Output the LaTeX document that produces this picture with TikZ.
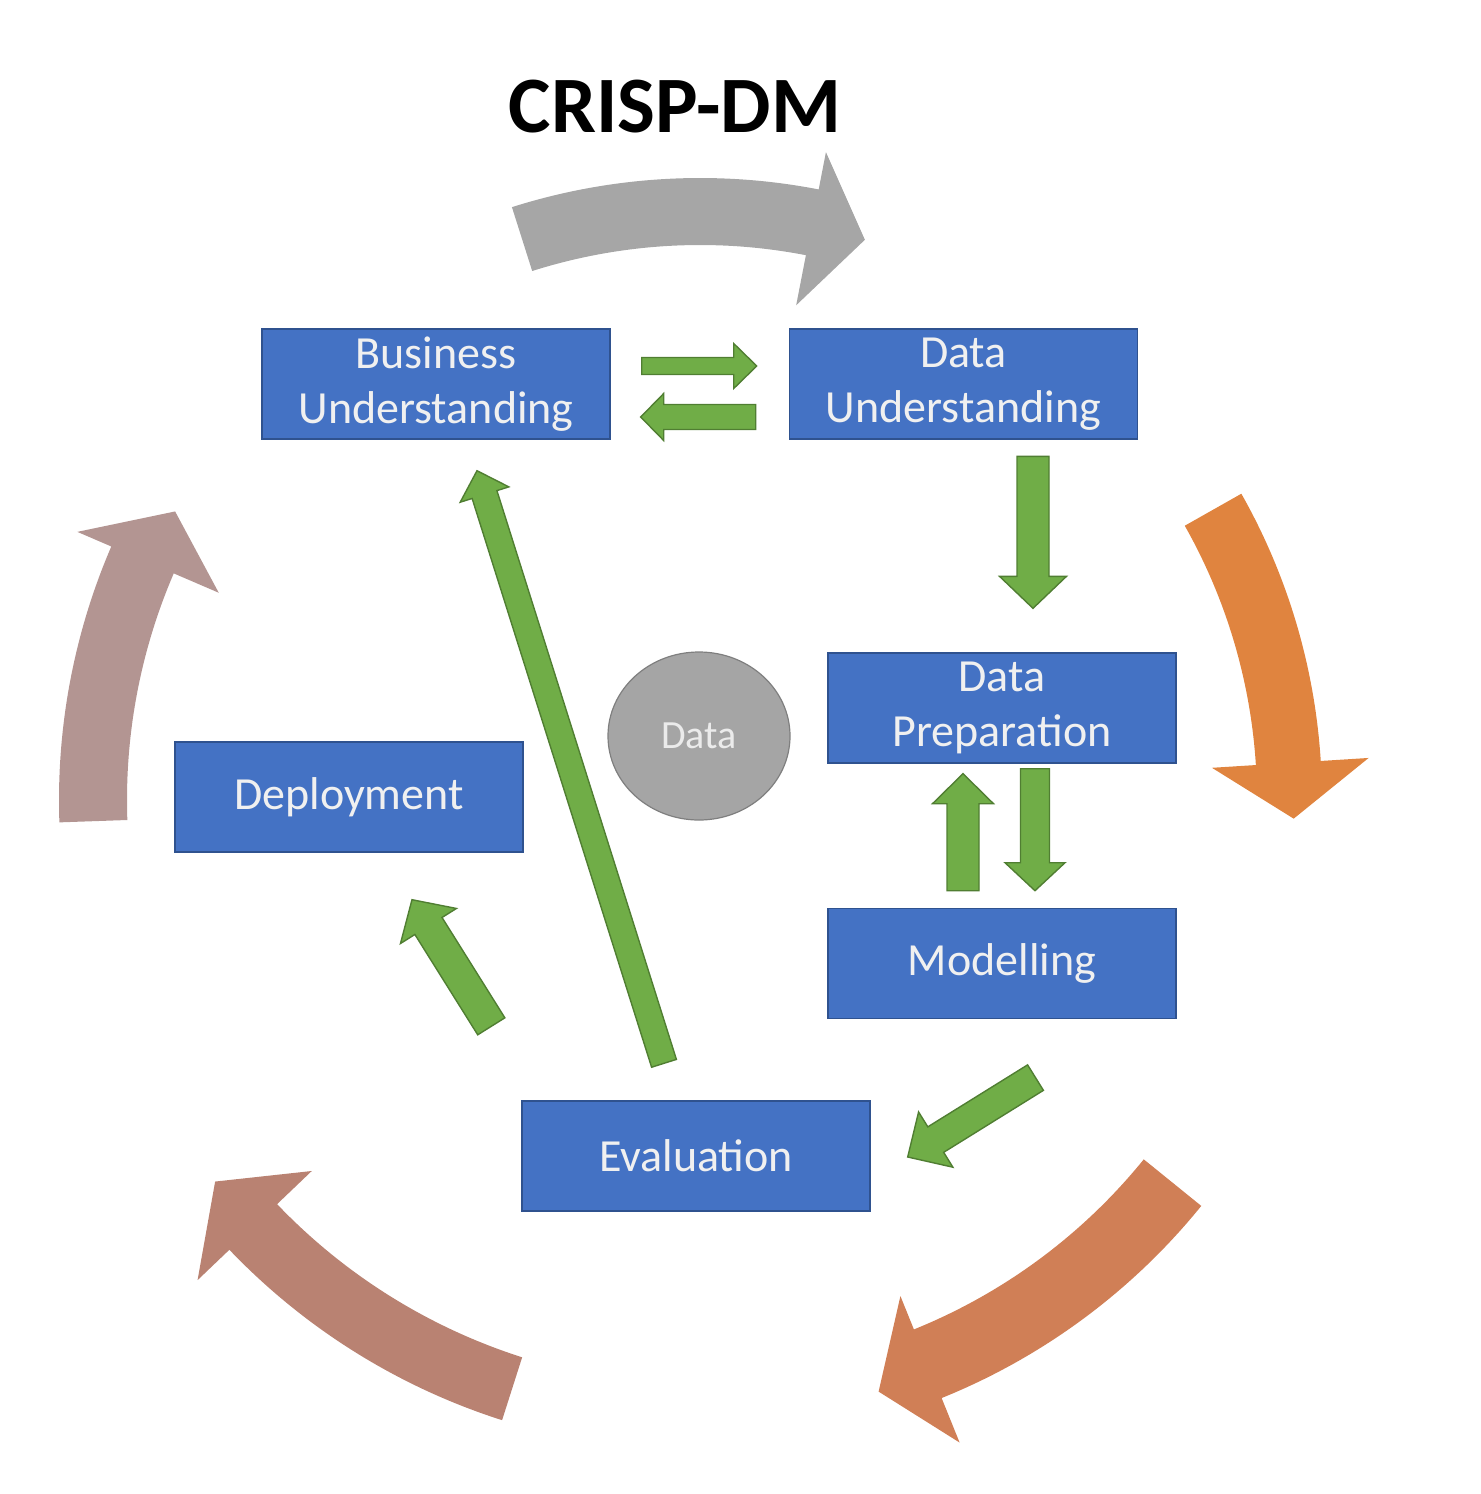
\documentclass[tikz,border=0pt]{standalone}
\usepackage{fontspec}
\setmainfont{Carlito}
\usetikzlibrary{positioning, calc, shapes.geometric}
\definecolor{boxblue}{HTML}{4472C4}
\definecolor{boxline}{HTML}{2F528F}
\definecolor{leaf}{HTML}{70AD47}
\definecolor{leafline}{HTML}{507E32}
\definecolor{stone}{HTML}{A5A5A5}
\definecolor{stoneline}{HTML}{7F7F7F}
\definecolor{bentgray}{HTML}{A6A6A6}
\definecolor{bentorange}{HTML}{E0843F}
\definecolor{bentrust}{HTML}{D07F56}
\definecolor{bentbrown}{HTML}{B98272}
\definecolor{bentmauve}{HTML}{B39592}
\tikzset{
        phase/.style={rectangle, draw=boxline, line width=0.7pt, fill=boxblue,
                text=white!94!black, minimum width=174pt, minimum height=55pt,
                inner sep=0pt, align=center, font=\fontsize{23}{27.5}\selectfont}, % the six phases
        store/.style={ellipse, draw=stoneline, line width=0.6pt, fill=stone,
                text=white!92!black, minimum width=91pt, minimum height=84pt,
                inner sep=0pt, font=\fontsize{20}{24}\selectfont},
        flow/.style={draw=leafline, line width=0.7pt, fill=leaf}, % green block arrows
        }
% block arrow: tail, tip, shaft half width, head half width, head length
\newcommand{\blockarrow}[5]{%
        \coordinate (hb) at ($(#2)!#5!(#1)$);
        \draw[flow] ($(#1)!#3!90:(#2)$) -- ($(hb)!#3!90:(#2)$) -- ($(hb)!#4!90:(#2)$) -- (#2)
              -- ($(hb)!#4!-90:(#2)$) -- ($(hb)!#3!-90:(#2)$) -- ($(#1)!#3!-90:(#2)$) -- cycle;}
% bent arrow round the cycle: colour, inner r, outer r, tail, head base, tip angle,
% head inner r, head outer r, tip r
\newcommand{\bentarrow}[9]{%
        \fill[#1, shift={(700,800)}] (#4:#3) arc[start angle=#4, end angle=#5, radius=#3]
              -- (#5:#8) -- (#6:#9) -- (#5:#7) -- (#5:#2)
              arc[start angle=#5, end angle=#4, radius=#2] -- cycle;}

\begin{document}
\begin{tikzpicture}[x=0.5pt, y=-0.5pt]
        \useasboundingbox (0,0) rectangle (1480,1494);
        \node (title) at (675,107) {\fontsize{40}{48}\selectfont\bfseries CRISP-DM};

        % outer cycle
        \bentarrow{bentgray}{555}{622}{-107.6}{-79}{-73.6}{504}{660}{584}
        \bentarrow{bentorange}{557}{622}{-29.5}{-3.6}{1.8}{513}{670}{594}
        \bentarrow{bentrust}{571}{645}{39}{68}{73.2}{535}{693}{618}
        \bentarrow{bentbrown}{585}{651}{107.7}{136.3}{141.8}{537}{695}{617}
        \bentarrow{bentmauve}{573}{641}{178}{203.3}{208.8}{524}{678}{599}

        \node[phase] (bu) at (436,384) {Business\\Understanding};
        \node[phase, right=89pt of bu] (du) {Data\\Understanding};
        \node[phase] (dp) at (1002,708) {Data\\Preparation};
        \node[phase, below=72pt of dp] (mo) {Modelling};
        \node[phase] (ev) at (696,1156) {Evaluation};
        \node[phase] (de) at (349,797) {Deployment};
        \node[store] (data) at (699,736) {Data};

        % ends of the green arrows
        \coordinate (b2d-s) at ($(bu.east)+(31,-18)$);
        \coordinate (b2d-e) at ($(du.west)+(-32,-18)$);
        \coordinate (d2b-s) at ($(du.west)+(-33,33)$);
        \coordinate (d2b-e) at ($(bu.east)+(30,33)$);
        \coordinate (d2p-s) at ($(dp.north)+(31,-196)$);
        \coordinate (d2p-e) at ($(dp.north)+(31,-44)$);
        \coordinate (m2p-s) at ($(mo.north)+(-39,-17)$);
        \coordinate (m2p-e) at ($(dp.south)+(-39,10)$);
        \coordinate (p2m-s) at ($(dp.south)+(33,5)$);
        \coordinate (p2m-e) at ($(mo.north)+(33,-17)$);
        \coordinate (m2e-s) at ($(mo.south)+(33.5,58.5)$);
        \coordinate (m2e-e) at ($(ev.east)+(37,1)$);
        \coordinate (e2d-s) at ($(ev.north west)+(-30,-74)$);
        \coordinate (e2d-e) at ($(de.south)+(63,47)$);
        \coordinate (e2b-s) at ($(ev.north)+(-32,-37)$);
        \coordinate (e2b-e) at ($(bu.south)+(41,31)$);

        \blockarrow{b2d-s}{b2d-e}{4.25pt}{11.25pt}{11.5pt}
        \blockarrow{d2b-s}{d2b-e}{6.25pt}{11.75pt}{11.5pt}
        \blockarrow{d2p-s}{d2p-e}{8pt}{16.75pt}{16pt}
        \blockarrow{m2p-s}{m2p-e}{8pt}{15.25pt}{15pt}
        \blockarrow{p2m-s}{p2m-e}{7.25pt}{15pt}{14pt}
        \blockarrow{m2e-s}{m2e-e}{7.5pt}{16.25pt}{16.5pt}
        \blockarrow{e2d-s}{e2d-e}{8pt}{16.5pt}{15.5pt}
        \blockarrow{e2b-s}{e2b-e}{6.5pt}{12.75pt}{12.5pt}
\end{tikzpicture}
\end{document}
